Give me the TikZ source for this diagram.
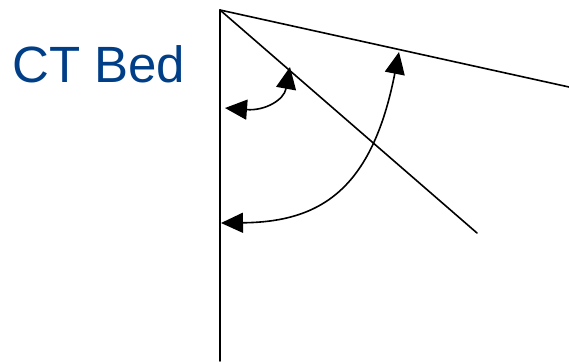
\documentclass[tikz,border=0pt]{standalone}
\usepackage{fontspec}
\setmainfont{Liberation Sans}
\usetikzlibrary{arrows.meta}
\definecolor{bedblue}{RGB}{0,63,135}
\begin{document}
\begin{tikzpicture}[x=1bp,y=-1bp,
  edge/.style={line width=1.6bp, line cap=round},
  anglearrow/.style={line width=1.6bp, {Triangle[length=22bp,width=20bp]}-{Triangle[length=22bp,width=20bp]}}]
\useasboundingbox (0,0) rectangle (569,361);
\coordinate (apex) at (220,10);
\coordinate (bottom) at (220,361);
\coordinate (topend) at (569,87);
\coordinate (diagend) at (477,233);
\coordinate (a1s) at (225,108);
\coordinate (a1e) at (290,67);
\coordinate (a2s) at (221,223);
\coordinate (a2e) at (399,52);
\node[text=bedblue, font=\fontsize{51bp}{60bp}\selectfont, anchor=base west, inner sep=0pt] (label) at (12,82) {CT Bed};
\draw[edge] (apex) -- (bottom);
\draw[edge] (apex) -- (topend);
\draw[edge] (apex) -- (diagend);
\draw[anglearrow] (a1s) .. controls (265,111) and (284,100) .. (a1e);
\draw[anglearrow] (a2s) .. controls (320,222) and (372,190) .. (a2e);
\end{tikzpicture}
\end{document}
